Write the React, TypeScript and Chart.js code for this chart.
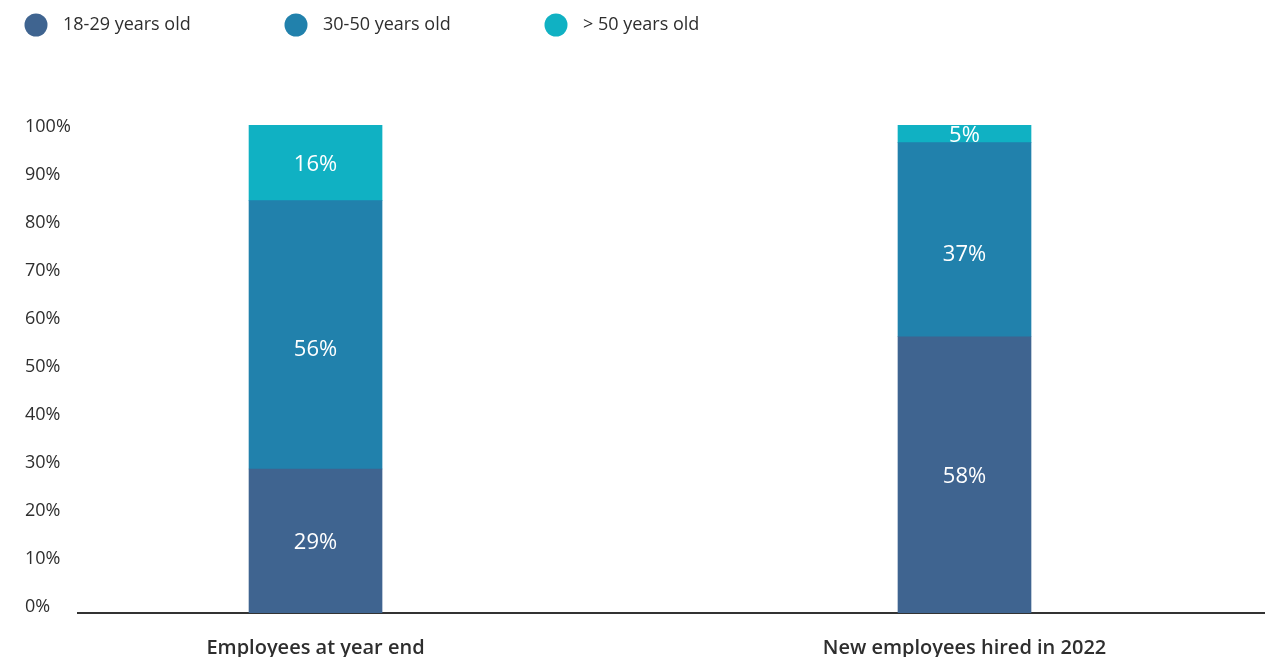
import React, { useEffect, useRef } from "react";
import { Chart, registerables } from "chart.js";

Chart.register(...registerables);

// ---- data ----
const categories = ["Employees at year end", "New employees hired in 2022"];
const seriesNames = ["18-29 years old", "30-50 years old", "> 50 years old"];
const age18to29 = [29.5, 56.6];
const age30to50 = [55.0, 39.8];
const age50plus = [15.5, 3.6];
const labels18to29 = ["29%", "58%"];
const labels30to50 = ["56%", "37%"];
const labels50plus = ["16%", "5%"];
const yTickValues = [0, 10, 20, 30, 40, 50, 60, 70, 80, 90, 100];

// ---- styles ----
const colors = ["#3F6490", "#2181AC", "#10B1C3"];
const FONT = "'Open Sans', 'DejaVu Sans', sans-serif";
const TEXT = "#2e2e2e";

const segmentLabelPlugin = {
  id: "segmentLabels",
  afterDatasetsDraw(chart: any) {
    const ctx = chart.ctx;
    ctx.save();
    ctx.fillStyle = "#ffffff";
    ctx.font = `400 22px ${FONT}`;
    ctx.textAlign = "center";
    ctx.textBaseline = "middle";
    chart.data.datasets.forEach((ds: any, di: number) => {
      const meta = chart.getDatasetMeta(di);
      meta.data.forEach((bar: any, i: number) => {
        const { x, y, base } = bar.getProps(["x", "y", "base"], true);
        ctx.fillText(ds.valueLabels[i], x, (y + base) / 2 + 2 + (ds.labelShift || 0));
      });
    });
    ctx.restore();
  },
};

const legendPlugin = {
  id: "customLegend",
  afterDraw(chart: any) {
    const ctx = chart.ctx;
    const startX = 36;
    const spacing = 260;
    const cy = 25;
    ctx.save();
    ctx.font = `400 18px ${FONT}`;
    ctx.textAlign = "left";
    ctx.textBaseline = "middle";
    chart.data.datasets.forEach((ds: any, i: number) => {
      const cx = startX + i * spacing;
      ctx.beginPath();
      ctx.fillStyle = ds.backgroundColor;
      ctx.arc(cx, cy, 11.5, 0, Math.PI * 2);
      ctx.fill();
      ctx.fillStyle = TEXT;
      ctx.fillText(ds.label, cx + 27, cy);
    });
    ctx.restore();
  },
};

export default function App() {
  const canvasRef = useRef<HTMLCanvasElement | null>(null);

  useEffect(() => {
    if (!canvasRef.current) return;
    const series = [age18to29, age30to50, age50plus];
    const valueLabels = [labels18to29, labels30to50, labels50plus];
    const shifts = [0, 13, 0];
    const chart = new Chart(canvasRef.current, {
      type: "bar",
      data: {
        datasets: series.map((vals, si) => ({
          label: seriesNames[si],
          data: vals.map((v, i) => ({ x: i, y: v })),
          backgroundColor: colors[si],
          borderWidth: 0,
          barThickness: 133,
          xAxisID: "x",
          yAxisID: "y",
          valueLabels: valueLabels[si],
          labelShift: shifts[si],
        })) as any,
      },
      options: {
        responsive: false,
        animation: false,
        layout: { padding: { top: 125, left: 25, right: 16, bottom: 0 } },
        plugins: {
          legend: { display: false },
          tooltip: { enabled: false },
          title: { display: false },
        },
        scales: {
          x: {
            type: "linear",
            stacked: true,
            offset: false,
            min: -0.366,
            max: 1.4615,
            grid: { display: false, drawTicks: false, offset: false },
            border: { display: true, color: "#333333", width: 2 },
            afterBuildTicks: (s: any) => {
              s.ticks = categories.map((_, i) => ({ value: i }));
            },
            afterFit: (s: any) => {
              s.height = 44;
            },
            ticks: {
              autoSkip: false,
              maxRotation: 0,
              padding: 23,
              color: TEXT,
              font: { family: FONT, size: 20, weight: "600" as any },
              callback: (v: any) => categories[v] ?? "",
            },
          },
          y: {
            type: "linear",
            stacked: true,
            min: 0,
            max: 100,
            display: false,
          },
          yTicks: {
            type: "linear",
            position: "left",
            min: -1.249,
            max: 100.31,
            grid: { display: false, drawTicks: false },
            border: { display: false },
            afterBuildTicks: (s: any) => {
              s.ticks = yTickValues.map((v) => ({ value: v }));
            },
            afterFit: (s: any) => {
              s.width = 53;
            },
            ticks: {
              crossAlign: "far",
              padding: 0,
              color: TEXT,
              font: { family: FONT, size: 18 },
              callback: (v: any) => `${v}%`,
            },
          },
        } as any,
      },
      plugins: [segmentLabelPlugin, legendPlugin],
    });
    return () => chart.destroy();
  }, []);

  return (
    <div style={{ position: "fixed", left: 0, top: 0, width: 1280, height: 657, background: "#ffffff" }}>
      <canvas ref={canvasRef} width={1280} height={657} style={{ display: "block" }} />
    </div>
  );
}
